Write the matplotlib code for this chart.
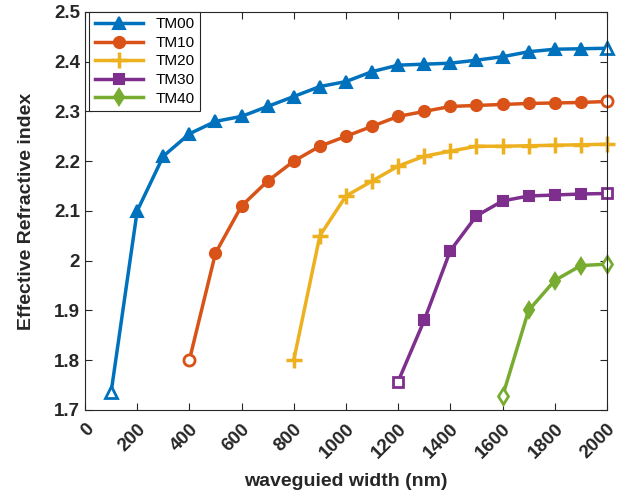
import matplotlib.pyplot as plt
import matplotlib.transforms as mtransforms
from matplotlib.ticker import FuncFormatter

plt.rcParams["font.family"] = ["Liberation Sans", "DejaVu Sans"]

# waveguide width (nm) and effective index for each mode
w_tm00 = [100, 200, 300, 400, 500, 600, 700, 800, 900, 1000,
          1100, 1200, 1300, 1400, 1500, 1600, 1700, 1800, 1900, 2000]
n_tm00 = [1.735, 2.10, 2.21, 2.255, 2.28, 2.29, 2.31, 2.33, 2.35, 2.36,
          2.38, 2.393, 2.395, 2.397, 2.403, 2.41, 2.42, 2.425, 2.426, 2.427]

w_tm10 = [400, 500, 600, 700, 800, 900, 1000, 1100, 1200,
          1300, 1400, 1500, 1600, 1700, 1800, 1900, 2000]
n_tm10 = [1.80, 2.015, 2.11, 2.16, 2.20, 2.23, 2.25, 2.27, 2.29,
          2.30, 2.31, 2.312, 2.314, 2.316, 2.317, 2.318, 2.32]

w_tm20 = [800, 900, 1000, 1100, 1200, 1300, 1400, 1500, 1600, 1700, 1800, 1900, 2000]
n_tm20 = [1.80, 2.05, 2.13, 2.16, 2.19, 2.21, 2.22, 2.23, 2.23, 2.231, 2.232, 2.233, 2.234]

w_tm30 = [1200, 1300, 1400, 1500, 1600, 1700, 1800, 1900, 2000]
n_tm30 = [1.757, 1.88, 2.02, 2.09, 2.12, 2.13, 2.132, 2.134, 2.135]

w_tm40 = [1600, 1700, 1800, 1900, 2000]
n_tm40 = [1.727, 1.90, 1.96, 1.99, 1.993]

x_ticks = [0, 200, 400, 600, 800, 1000, 1200, 1400, 1600, 1800, 2000]
y_ticks = [1.7, 1.8, 1.9, 2.0, 2.1, 2.2, 2.3, 2.4, 2.5]

modes = [
    ("TM00", w_tm00, n_tm00, "#0072BD", "^", 9),
    ("TM10", w_tm10, n_tm10, "#D95319", "o", 8),
    ("TM20", w_tm20, n_tm20, "#EDB120", "+", 12),
    ("TM30", w_tm30, n_tm30, "#7E2F8E", "s", 7),
    ("TM40", w_tm40, n_tm40, "#77AC30", "d", 8),
]

fig = plt.figure(figsize=(6.25, 4.98), dpi=100)
ax = fig.add_axes([0.136, 0.177, 0.835, 0.799])

for label, w, n, color, marker, ms in modes:
    mew = 2.5 if marker == "+" else 1.5
    ax.plot(
        w, n,
        color=color,
        linewidth=2.5,
        marker=marker,
        markersize=ms,
        markeredgewidth=mew,
        markevery=slice(1, len(w) - 1),
        clip_on=False,
        label=label
    )
    # end points drawn with open markers
    ax.plot(
        [w[0], w[-1]], [n[0], n[-1]],
        linestyle="none",
        marker=marker,
        markersize=ms,
        markeredgewidth=2.0 if marker != "+" else mew,
        markeredgecolor=color,
        markerfacecolor="white",
        clip_on=False
    )

ax.set_xlim(0, 2000)
ax.set_ylim(1.7, 2.5)
ax.set_xticks(x_ticks)
ax.set_yticks(y_ticks)
ax.yaxis.set_major_formatter(FuncFormatter(lambda v, p: f"{v:g}"))

ax.tick_params(
    direction="in",
    top=True,
    right=True,
    length=5,
    width=0.8,
    color="#262626",
    labelsize=13.5
)
ax.tick_params(axis="x", pad=7)

# shift rotated labels slightly right and down
shift = mtransforms.ScaledTranslation(0.06, -0.07, fig.dpi_scale_trans)
for lbl in ax.get_xticklabels():
    lbl.set_rotation(45)
    lbl.set_rotation_mode("anchor")
    lbl.set_ha("right")
    lbl.set_va("center")
    lbl.set_fontweight("bold")
    lbl.set_color("#262626")
    lbl.set_transform(lbl.get_transform() + shift)
for lbl in ax.get_yticklabels():
    lbl.set_fontweight("bold")
    lbl.set_color("#262626")

for spine in ax.spines.values():
    spine.set_color("#262626")
    spine.set_linewidth(0.8)

ax.set_xlabel(
    "waveguied width (nm)",
    fontsize=14,
    fontweight="bold",
    color="#262626",
    labelpad=8
)
ax.set_ylabel(
    "Effective Refractive index",
    fontsize=14,
    fontweight="bold",
    color="#262626",
    labelpad=14
)

leg = ax.legend(
    loc="upper left",
    bbox_to_anchor=(0.008, 1.0),
    fontsize=11,
    fancybox=False,
    framealpha=1,
    edgecolor="#262626",
    handlelength=3.2,
    borderaxespad=0.0,
    borderpad=0.35,
    labelspacing=0.3
)
leg.get_frame().set_linewidth(0.8)

plt.savefig("out.png", dpi=100)
